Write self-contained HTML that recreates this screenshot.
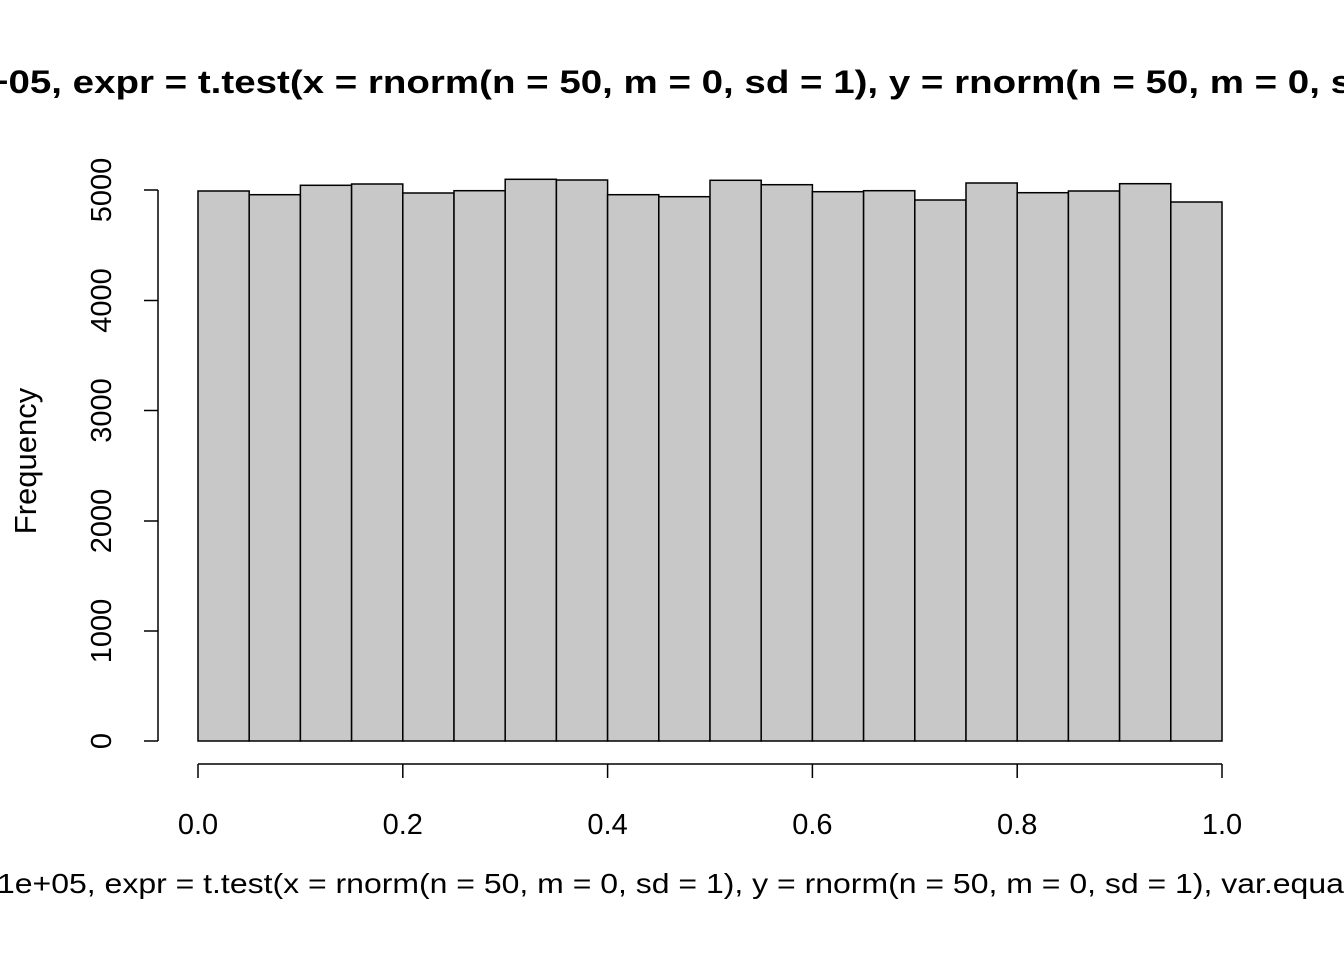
<!DOCTYPE html>
<html><head><style>body{margin:0;background:#fff}svg{display:block}</style></head><body>
<svg width="1344" height="960" xmlns="http://www.w3.org/2000/svg" font-family="Liberation Sans, Arial, sans-serif">
<rect width="1344" height="960" fill="#fff"/>
<g fill="#c8c8c8" stroke="#000" stroke-width="1.5">
<rect x="198" y="191" width="51.2" height="550"/>
<rect x="249.2" y="194.7" width="51.2" height="546.3"/>
<rect x="300.4" y="185.3" width="51.2" height="555.7"/>
<rect x="351.6" y="184" width="51.2" height="557"/>
<rect x="402.8" y="193" width="51.2" height="548"/>
<rect x="454" y="190.7" width="51.2" height="550.3"/>
<rect x="505.2" y="179.3" width="51.2" height="561.7"/>
<rect x="556.4" y="180" width="51.2" height="561"/>
<rect x="607.6" y="194.7" width="51.2" height="546.3"/>
<rect x="658.8" y="196.7" width="51.2" height="544.3"/>
<rect x="710" y="180.3" width="51.2" height="560.7"/>
<rect x="761.2" y="184.7" width="51.2" height="556.3"/>
<rect x="812.4" y="191.7" width="51.2" height="549.3"/>
<rect x="863.6" y="190.7" width="51.2" height="550.3"/>
<rect x="914.8" y="200" width="51.2" height="541"/>
<rect x="966" y="183" width="51.2" height="558"/>
<rect x="1017.2" y="192.7" width="51.2" height="548.3"/>
<rect x="1068.4" y="191" width="51.2" height="550"/>
<rect x="1119.6" y="183.7" width="51.2" height="557.3"/>
<rect x="1170.8" y="202" width="51.2" height="539"/>
</g>
<g stroke="#000" stroke-width="1.5" fill="none">
<path d="M158 741V190M144 741H158M144 631H158M144 521H158M144 410.5H158M144 300.5H158M144 190H158"/>
<path d="M198 764H1222M198 764V778M402.8 764V778M607.6 764V778M812.4 764V778M1017.2 764V778M1222 764V778"/>
</g>
<g font-size="29" fill="#000" text-anchor="middle">
<text transform="translate(111,741) rotate(-90)">0</text>
<text transform="translate(111,631) rotate(-90)">1000</text>
<text transform="translate(111,521) rotate(-90)">2000</text>
<text transform="translate(111,410.5) rotate(-90)">3000</text>
<text transform="translate(111,300.5) rotate(-90)">4000</text>
<text transform="translate(111,190) rotate(-90)">5000</text>
<text transform="translate(36,461) rotate(-90)" font-size="31">Frequency</text>
<text x="198" y="834">0.0</text>
<text x="402.8" y="834">0.2</text>
<text x="607.6" y="834">0.4</text>
<text x="812.4" y="834">0.6</text>
<text x="1017.2" y="834">0.8</text>
<text x="1222" y="834">1.0</text>
</g>
<text x="-14" y="93" font-size="32" font-weight="bold" textLength="1366" lengthAdjust="spacingAndGlyphs">+05, expr = t.test(x = rnorm(n = 50, m = 0, sd = 1), y = rnorm(n = 50, m = 0, s</text>
<text x="-3" y="893" font-size="28" textLength="1354" lengthAdjust="spacingAndGlyphs">1e+05, expr = t.test(x = rnorm(n = 50, m = 0, sd = 1), y = rnorm(n = 50, m = 0, sd = 1), var.equal</text>
</svg>
</body></html>
